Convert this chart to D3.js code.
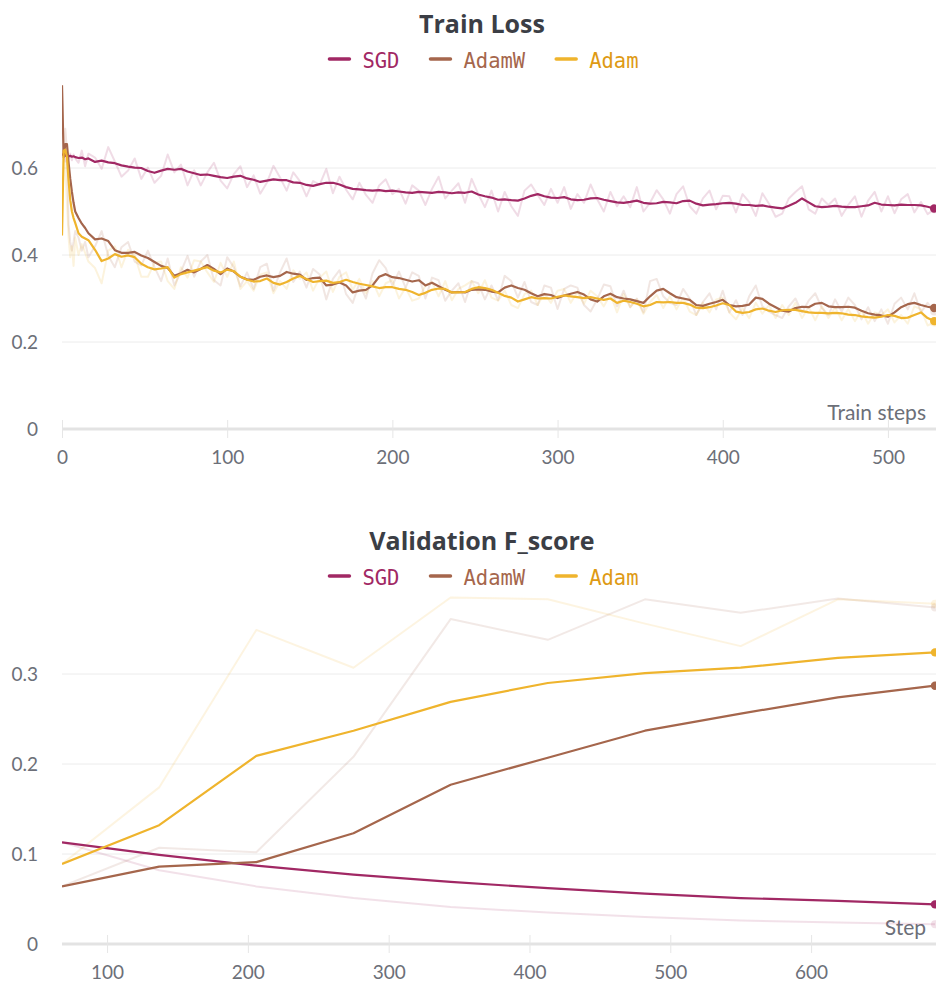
<!DOCTYPE html>
<html>
<head>
<meta charset="utf-8">
<script src="https://cdn.jsdelivr.net/npm/d3@7/dist/d3.min.js"></script>
<style>
  html, body { margin: 0; padding: 0; background: #ffffff; }
  svg { display: block; }
</style>
</head>
<body>
<svg id="chart" width="936" height="985"></svg>
<script>
// ---------- Train loss (logged every step, sampled here) ----------
const trainSteps = [
  0, 1, 2, 3, 4, 5, 6, 7, 8, 10, 12, 14, 16,
  20, 24, 28, 32, 36, 40, 44, 48,
  52, 56, 60, 64, 68, 72, 76, 80,
  84, 88, 92, 96, 100, 104, 108, 112,
  116, 120, 124, 128, 132, 136, 140, 144,
  148, 152, 156, 160, 164, 168, 172, 176,
  180, 184, 188, 192, 196, 200, 204, 208,
  212, 216, 220, 224, 228, 232, 236, 240,
  244, 248, 252, 256, 260, 264, 268, 272,
  276, 280, 284, 288, 292, 296, 300, 304,
  308, 312, 316, 320, 324, 328, 332, 336,
  340, 344, 348, 352, 356, 360, 364, 368,
  372, 376, 380, 384, 388, 392, 396, 400,
  404, 408, 412, 416, 420, 424, 428, 432,
  436, 440, 444, 448, 452, 456, 460, 464,
  468, 472, 476, 480, 484, 488, 492, 496,
  500, 504, 508, 512, 516, 520, 524, 528
];

const sgdLossSmooth = [
  0.630, 0.632, 0.628, 0.630, 0.627, 0.628, 0.626, 0.627, 0.625, 0.623, 0.624, 0.620, 0.622,
  0.614, 0.617, 0.613, 0.611, 0.606, 0.603, 0.601, 0.600,
  0.593, 0.589, 0.594, 0.598, 0.596, 0.598, 0.592, 0.588,
  0.584, 0.585, 0.582, 0.579, 0.577, 0.580, 0.582, 0.576,
  0.573, 0.568, 0.571, 0.574, 0.572, 0.572, 0.567, 0.566,
  0.561, 0.559, 0.563, 0.566, 0.566, 0.562, 0.556, 0.552,
  0.551, 0.549, 0.548, 0.549, 0.547, 0.548, 0.546, 0.544,
  0.543, 0.545, 0.544, 0.543, 0.545, 0.544, 0.542, 0.544,
  0.543, 0.546, 0.539, 0.535, 0.532, 0.527, 0.528, 0.526,
  0.525, 0.530, 0.536, 0.540, 0.535, 0.532, 0.531, 0.533,
  0.528, 0.526, 0.527, 0.530, 0.531, 0.527, 0.524, 0.521,
  0.520, 0.522, 0.525, 0.520, 0.518, 0.519, 0.522, 0.521,
  0.519, 0.524, 0.525, 0.518, 0.514, 0.516, 0.517, 0.519,
  0.520, 0.518, 0.515, 0.515, 0.513, 0.514, 0.511, 0.509,
  0.507, 0.513, 0.520, 0.530, 0.521, 0.512, 0.510, 0.511,
  0.513, 0.511, 0.510, 0.510, 0.512, 0.514, 0.520, 0.516,
  0.515, 0.514, 0.516, 0.515, 0.515, 0.514, 0.511, 0.507
];
const sgdLossRaw = [
  0.630, 0.640, 0.615, 0.636, 0.620, 0.633, 0.618, 0.631, 0.622, 0.612, 0.640, 0.604, 0.633,
  0.624, 0.598, 0.648, 0.615, 0.580, 0.594, 0.622, 0.575,
  0.601, 0.566, 0.582, 0.631, 0.590, 0.608, 0.560, 0.595,
  0.560, 0.590, 0.612, 0.571, 0.553, 0.586, 0.604, 0.556,
  0.583, 0.541, 0.566, 0.605, 0.578, 0.548, 0.590, 0.570,
  0.535, 0.570, 0.562, 0.598, 0.542, 0.580, 0.550, 0.528,
  0.566, 0.538, 0.520, 0.560, 0.574, 0.540, 0.552, 0.518,
  0.560, 0.548, 0.515, 0.552, 0.580, 0.530, 0.548, 0.565,
  0.520, 0.575, 0.540, 0.510, 0.548, 0.500, 0.545, 0.512,
  0.490, 0.548, 0.562, 0.538, 0.515, 0.552, 0.520, 0.556,
  0.506, 0.540, 0.520, 0.562, 0.528, 0.500, 0.545, 0.512,
  0.535, 0.510, 0.556, 0.500, 0.520, 0.549, 0.528, 0.495,
  0.540, 0.558, 0.512, 0.495, 0.530, 0.548, 0.505, 0.536,
  0.535, 0.498, 0.540, 0.522, 0.490, 0.542, 0.518, 0.488,
  0.495, 0.530, 0.545, 0.558, 0.505, 0.495, 0.530, 0.515,
  0.530, 0.490, 0.515, 0.535, 0.488, 0.525, 0.545, 0.500,
  0.535, 0.496, 0.528, 0.540, 0.498, 0.522, 0.494, 0.505
];

const adamwLossSmooth = [
  0.790, 0.625, 0.655, 0.655, 0.612, 0.575, 0.545, 0.520, 0.500, 0.485, 0.472, 0.462, 0.450,
  0.436, 0.438, 0.432, 0.411, 0.405, 0.405, 0.407, 0.399,
  0.393, 0.384, 0.375, 0.370, 0.352, 0.358, 0.366, 0.360,
  0.368, 0.377, 0.368, 0.356, 0.369, 0.362, 0.350, 0.344,
  0.343, 0.350, 0.353, 0.349, 0.352, 0.361, 0.357, 0.355,
  0.343, 0.347, 0.348, 0.330, 0.332, 0.337, 0.330, 0.314,
  0.318, 0.320, 0.330, 0.350, 0.356, 0.349, 0.347, 0.343,
  0.339, 0.342, 0.330, 0.336, 0.328, 0.320, 0.314, 0.315,
  0.314, 0.320, 0.321, 0.320, 0.316, 0.314, 0.325, 0.330,
  0.324, 0.320, 0.312, 0.305, 0.310, 0.308, 0.301, 0.307,
  0.311, 0.315, 0.309, 0.298, 0.293, 0.305, 0.311, 0.303,
  0.300, 0.298, 0.294, 0.290, 0.305, 0.318, 0.322, 0.312,
  0.303, 0.300, 0.297, 0.285, 0.283, 0.288, 0.292, 0.297,
  0.285, 0.282, 0.283, 0.286, 0.302, 0.299, 0.288, 0.280,
  0.272, 0.270, 0.278, 0.281, 0.280, 0.288, 0.290, 0.282,
  0.280, 0.280, 0.281, 0.279, 0.272, 0.266, 0.263, 0.261,
  0.258, 0.268, 0.280, 0.287, 0.290, 0.285, 0.281, 0.278
];
const adamwLossRaw = [
  0.790, 0.620, 0.690, 0.640, 0.470, 0.430, 0.410, 0.430, 0.455, 0.440, 0.410, 0.430, 0.395,
  0.420, 0.455, 0.398, 0.372, 0.418, 0.430, 0.385, 0.376,
  0.410, 0.372, 0.340, 0.392, 0.330, 0.362, 0.398, 0.350,
  0.385, 0.400, 0.342, 0.330, 0.395, 0.372, 0.328, 0.360,
  0.322, 0.372, 0.380, 0.318, 0.360, 0.392, 0.338, 0.362,
  0.325, 0.368, 0.355, 0.298, 0.345, 0.365, 0.310, 0.290,
  0.335, 0.300, 0.358, 0.388, 0.370, 0.330, 0.362, 0.325,
  0.360, 0.352, 0.300, 0.348, 0.342, 0.295, 0.318, 0.335,
  0.292, 0.340, 0.335, 0.298, 0.330, 0.296, 0.352, 0.340,
  0.302, 0.338, 0.292, 0.285, 0.330, 0.325, 0.276, 0.322,
  0.330, 0.325, 0.285, 0.270, 0.298, 0.332, 0.328, 0.282,
  0.318, 0.280, 0.300, 0.268, 0.340, 0.345, 0.305, 0.290,
  0.285, 0.322, 0.300, 0.262, 0.292, 0.312, 0.275, 0.318,
  0.268, 0.296, 0.262, 0.305, 0.330, 0.282, 0.270, 0.262,
  0.255, 0.282, 0.300, 0.268, 0.295, 0.312, 0.278, 0.262,
  0.298, 0.270, 0.302, 0.285, 0.252, 0.280, 0.248, 0.275,
  0.242, 0.288, 0.302, 0.275, 0.312, 0.268, 0.290, 0.270
];

const adamLossSmooth = [
  0.445, 0.640, 0.642, 0.625, 0.570, 0.526, 0.500, 0.485, 0.474, 0.450, 0.442, 0.438, 0.434,
  0.412, 0.386, 0.392, 0.402, 0.396, 0.399, 0.395, 0.380,
  0.372, 0.367, 0.369, 0.372, 0.348, 0.356, 0.360, 0.364,
  0.368, 0.372, 0.364, 0.360, 0.366, 0.363, 0.350, 0.343,
  0.339, 0.340, 0.346, 0.336, 0.332, 0.338, 0.346, 0.352,
  0.345, 0.338, 0.340, 0.341, 0.336, 0.338, 0.343, 0.338,
  0.334, 0.331, 0.328, 0.324, 0.326, 0.326, 0.322, 0.320,
  0.315, 0.308, 0.313, 0.320, 0.323, 0.322, 0.314, 0.314,
  0.315, 0.322, 0.326, 0.324, 0.320, 0.313, 0.306, 0.302,
  0.293, 0.298, 0.303, 0.300, 0.301, 0.300, 0.304, 0.307,
  0.305, 0.303, 0.301, 0.303, 0.300, 0.297, 0.300, 0.290,
  0.295, 0.292, 0.288, 0.282, 0.285, 0.292, 0.291, 0.292,
  0.290, 0.290, 0.286, 0.279, 0.278, 0.280, 0.284, 0.289,
  0.285, 0.270, 0.267, 0.269, 0.275, 0.277, 0.272, 0.269,
  0.273, 0.274, 0.274, 0.271, 0.268, 0.267, 0.267, 0.266,
  0.267, 0.266, 0.263, 0.262, 0.259, 0.257, 0.256, 0.258,
  0.262, 0.260, 0.255, 0.256, 0.262, 0.268, 0.255, 0.248
];
const adamLossRaw = [
  0.445, 0.640, 0.600, 0.520, 0.440, 0.395, 0.420, 0.375, 0.440, 0.400, 0.425, 0.405, 0.385,
  0.370, 0.335, 0.410, 0.420, 0.372, 0.412, 0.400, 0.350,
  0.350, 0.382, 0.385, 0.340, 0.322, 0.372, 0.348, 0.388,
  0.385, 0.360, 0.338, 0.382, 0.350, 0.385, 0.322, 0.340,
  0.318, 0.355, 0.360, 0.312, 0.340, 0.322, 0.365, 0.345,
  0.360, 0.318, 0.348, 0.362, 0.315, 0.350, 0.360, 0.320,
  0.345, 0.312, 0.340, 0.305, 0.335, 0.342, 0.300, 0.325,
  0.295, 0.300, 0.330, 0.338, 0.305, 0.340, 0.296, 0.322,
  0.330, 0.340, 0.312, 0.342, 0.302, 0.295, 0.318, 0.285,
  0.278, 0.310, 0.318, 0.285, 0.312, 0.290, 0.318, 0.322,
  0.290, 0.315, 0.288, 0.318, 0.305, 0.282, 0.310, 0.268,
  0.310, 0.280, 0.298, 0.265, 0.292, 0.308, 0.278, 0.305,
  0.275, 0.302, 0.270, 0.262, 0.290, 0.268, 0.298, 0.302,
  0.268, 0.252, 0.278, 0.255, 0.290, 0.265, 0.285, 0.255,
  0.285, 0.262, 0.290, 0.255, 0.280, 0.250, 0.282, 0.255,
  0.280, 0.250, 0.276, 0.248, 0.272, 0.242, 0.268, 0.262,
  0.275, 0.245, 0.262, 0.242, 0.282, 0.275, 0.238, 0.245
];

const trainXTicks = [0, 100, 200, 300, 400, 500];
const trainYTicks = [0, 0.2, 0.4, 0.6];

// ---------- Validation F_score (one value per evaluation) ----------
const valSteps = [68, 137, 206, 275, 344, 413, 482, 550, 619, 688];
const sgdValSmooth   = [0.113, 0.099, 0.087, 0.077, 0.069, 0.062, 0.056, 0.051, 0.048, 0.044];
const sgdValRaw      = [0.113, 0.082, 0.064, 0.051, 0.041, 0.035, 0.030, 0.026, 0.024, 0.022];
const adamwValSmooth = [0.064, 0.086, 0.091, 0.123, 0.177, 0.207, 0.237, 0.256, 0.274, 0.287];
const adamwValRaw    = [0.064, 0.107, 0.102, 0.208, 0.361, 0.338, 0.383, 0.368, 0.384, 0.374];
const adamValSmooth  = [0.089, 0.132, 0.209, 0.237, 0.269, 0.290, 0.301, 0.307, 0.318, 0.324];
const adamValRaw     = [0.089, 0.174, 0.349, 0.307, 0.385, 0.383, 0.356, 0.331, 0.383, 0.378];

const valXTicks = [100, 200, 300, 400, 500, 600];
const valYTicks = [0, 0.1, 0.2, 0.3];

const seriesNames = ["SGD", "AdamW", "Adam"];

// ---------- styling ----------
const lineColors  = { SGD: "#a12864", AdamW: "#a5664c", Adam: "#efb42d" };
const labelColors = { SGD: "#a12864", AdamW: "#a5664c", Adam: "#de9a14" };
const TEXT_FONT = "Lato, 'Noto Sans', sans-serif";
const TITLE_FONT = "'Open Sans', 'Noto Sans', sans-serif";
const MONO_FONT = "'DejaVu Sans Mono', 'Liberation Mono', monospace";
const TICK_COLOR = "#6c6f78";
const PLOT_LEFT = 62, PLOT_RIGHT = 935;

const svg = d3.select("#chart");

function drawPanel(cfg) {
  const g = svg.append("g").attr("class", "panel");

  const x = d3.scaleLinear().domain(cfg.xDomain).range([PLOT_LEFT, PLOT_RIGHT]);
  const y = d3.scaleLinear().domain(cfg.yDomain).range([cfg.axisY, cfg.topY]);

  // title
  g.append("text")
    .attr("x", cfg.centerX).attr("y", cfg.titleY)
    .attr("text-anchor", "middle")
    .attr("font-family", TITLE_FONT).attr("font-weight", 700).attr("font-size", 25)
    .attr("fill", "#3b3e45")
    .text(cfg.title);

  // legend, centred under the title
  const leg = g.append("g");
  const items = leg.selectAll("g.item").data(seriesNames).join("g").attr("class", "item");
  items.append("line")
    .attr("x1", 0).attr("x2", 20)
    .attr("y1", cfg.legendY - 2).attr("y2", cfg.legendY - 2)
    .attr("stroke", d => lineColors[d]).attr("stroke-width", 3.5)
    .attr("stroke-linecap", "round");
  items.append("text")
    .attr("x", 33).attr("y", cfg.legendY + 7)
    .attr("font-family", MONO_FONT).attr("font-size", 20.5)
    .attr("fill", d => labelColors[d])
    .text(d => d);
  let cursor = 0;
  const offsets = [];
  items.each(function () {
    offsets.push(cursor);
    const w = d3.select(this).select("text").node().getComputedTextLength();
    cursor += 33 + w + 31;
  });
  const total = cursor - 31;
  const startX = cfg.centerX + 2 - total / 2;
  items.attr("transform", (d, i) => `translate(${startX + offsets[i]},0)`);

  // horizontal grid lines
  g.append("g").selectAll("line")
    .data(cfg.yTicks.filter(v => v > 0))
    .join("line")
    .attr("x1", PLOT_LEFT).attr("x2", 936)
    .attr("y1", d => y(d)).attr("y2", d => y(d))
    .attr("stroke", "#ececec").attr("stroke-width", 1);

  // y axis labels
  const yAxis = d3.axisLeft(y).tickValues(cfg.yTicks).tickSize(0).tickPadding(0)
    .tickFormat(d => String(d));
  const yg = g.append("g").attr("transform", "translate(38,0)").call(yAxis);
  yg.select(".domain").remove();
  yg.selectAll("text")
    .attr("font-family", TEXT_FONT).attr("font-size", 19).attr("fill", TICK_COLOR);

  // x axis
  const xAxis = d3.axisBottom(x).tickValues(cfg.xTicks).tickSizeInner(10).tickSizeOuter(0)
    .tickPadding(12).tickFormat(d => String(d));
  const xg = g.append("g").attr("transform", `translate(0,${cfg.axisY})`).call(xAxis);
  xg.select(".domain").attr("stroke", "#e3e3e3").attr("stroke-width", 3)
    .attr("d", `M${PLOT_LEFT},0H936`);
  xg.selectAll(".tick line").attr("y1", -9).attr("y2", 9)
    .attr("stroke", "#e6e6e6").attr("stroke-width", 1);
  xg.selectAll(".tick text")
    .attr("font-family", TEXT_FONT).attr("font-size", 19).attr("fill", TICK_COLOR);

  // x axis name
  g.append("text")
    .attr("x", 926).attr("y", cfg.axisY - 9)
    .attr("text-anchor", "end")
    .attr("font-family", TEXT_FONT).attr("font-size", 21).attr("fill", TICK_COLOR)
    .text(cfg.xLabel);

  // series
  const clipId = "clip-" + cfg.id;
  g.append("clipPath").attr("id", clipId).append("rect")
    .attr("x", PLOT_LEFT).attr("y", cfg.topY - 6)
    .attr("width", 936 - PLOT_LEFT).attr("height", cfg.axisY - cfg.topY + 6);
  const plot = g.append("g").attr("clip-path", `url(#${clipId})`);

  const line = d3.line()
    .x((d, i) => x(cfg.steps[i]))
    .y(d => y(d));

  // faint raw values underneath
  cfg.series.forEach(s => {
    plot.append("path").datum(s.raw)
      .attr("d", line).attr("fill", "none")
      .attr("stroke", lineColors[s.name]).attr("stroke-opacity", cfg.rawOpacity)
      .attr("stroke-width", 2).attr("stroke-linejoin", "round");
  });
  cfg.series.forEach(s => {
    const n = s.raw.length - 1;
    plot.append("circle")
      .attr("cx", x(cfg.steps[n])).attr("cy", y(s.raw[n])).attr("r", 4)
      .attr("fill", lineColors[s.name]).attr("fill-opacity", cfg.rawOpacity);
  });
  // smoothed values on top
  cfg.series.forEach(s => {
    plot.append("path").datum(s.smooth)
      .attr("d", line).attr("fill", "none")
      .attr("stroke", lineColors[s.name])
      .attr("stroke-width", 2.2).attr("stroke-linejoin", "round");
  });
  cfg.series.forEach(s => {
    const n = s.smooth.length - 1;
    plot.append("circle")
      .attr("cx", x(cfg.steps[n])).attr("cy", y(s.smooth[n])).attr("r", 4.2)
      .attr("fill", lineColors[s.name]);
  });
}

drawPanel({
  id: "loss",
  title: "Train Loss",
  titleY: 33,
  legendY: 61,
  centerX: 482,
  axisY: 429,
  topY: 81,
  xDomain: [0, 528.5],
  yDomain: [0, 0.8],
  xTicks: trainXTicks,
  yTicks: trainYTicks,
  xLabel: "Train steps",
  steps: trainSteps,
  rawOpacity: 0.16,
  series: [
    { name: "SGD",   raw: sgdLossRaw,   smooth: sgdLossSmooth },
    { name: "AdamW", raw: adamwLossRaw, smooth: adamwLossSmooth },
    { name: "Adam",  raw: adamLossRaw,  smooth: adamLossSmooth }
  ]
});

drawPanel({
  id: "fscore",
  title: "Validation F_score",
  titleY: 550,
  legendY: 578,
  centerX: 482,
  axisY: 944,
  topY: 944 - 0.385 * 900,
  xDomain: [68, 688],
  yDomain: [0, 0.385],
  xTicks: valXTicks,
  yTicks: valYTicks,
  xLabel: "Step",
  steps: valSteps,
  rawOpacity: 0.14,
  series: [
    { name: "SGD",   raw: sgdValRaw,   smooth: sgdValSmooth },
    { name: "AdamW", raw: adamwValRaw, smooth: adamwValSmooth },
    { name: "Adam",  raw: adamValRaw,  smooth: adamValSmooth }
  ]
});
</script>
</body>
</html>
